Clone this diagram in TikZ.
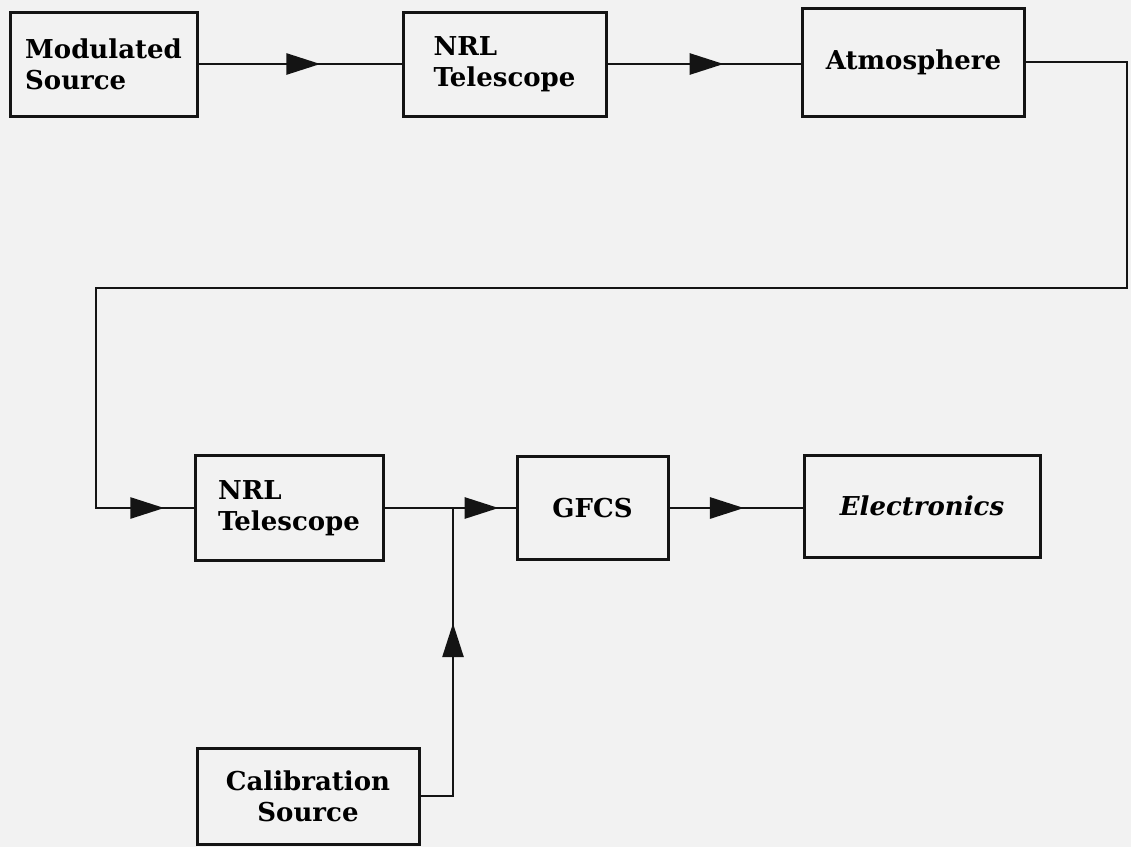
\documentclass[tikz,border=0pt]{standalone}
\usepackage{fontspec}
\setmainfont{DejaVu Serif}
\usetikzlibrary{arrows.meta,decorations.markings}

\definecolor{paper}{RGB}{242,242,242}
\definecolor{ink}{RGB}{20,20,20}

\tikzset{
  block/.style={draw=ink, line width=3pt, fill=paper, rectangle, inner sep=0pt,
    align=left, font=\fontsize{26}{31}\selectfont\bfseries},
  flow/.style={draw=ink, line width=2.8pt, line cap=rect},
  midarrow/.style={postaction={decorate}, decoration={markings,
    mark=at position #1 with {\arrow{Triangle[length=34pt,width=21pt]}}}}
}

\begin{document}
\begin{tikzpicture}[x=1pt, y=-1pt]
    % Page
    \fill[paper] (0,0) rectangle (1131,847);
    \useasboundingbox (0,0) rectangle (1131,847);

    % Blocks
    \node[block, minimum width=187pt, minimum height=104pt] (modsrc) at (103.5,64) {Modulated\\Source};
    \node[block, minimum width=203pt, minimum height=104pt] (nrltop) at (504.5,64) {NRL\\Telescope};
    \node[block, minimum width=222pt, minimum height=108pt] (atmos) at (913.5,62) {Atmosphere};
    \node[block, minimum width=188pt, minimum height=105pt] (nrlbot) at (289,508) {NRL\\Telescope};
    \node[block, minimum width=151pt, minimum height=103pt] (gfcs) at (592.5,508) {GFCS};
    \node[block, minimum width=236pt, minimum height=102pt] (elec) at (922,506) {\itshape Electronics};
    \node[block, minimum width=222pt, minimum height=96pt, align=center] (calsrc) at (308,796) {Calibration\\Source};

    % Route points
    \coordinate (loopne) at (1127,62);
    \coordinate (loopse) at (1127,288);
    \coordinate (loopsw) at (96,288);
    \coordinate (loopin) at (loopsw |- nrlbot.west);
    \coordinate (join) at (453,508);
    \coordinate (calturn) at (join |- calsrc.east);

    % Signal path
    \draw[flow, midarrow=0.6] (modsrc.east) -- (nrltop.west);
    \draw[flow, midarrow=0.6] (nrltop.east) -- (atmos.west |- nrltop.east);
    \draw[flow] (atmos.east) -- (loopne) -- (loopse) -- (loopsw) -- (loopin);
    \draw[flow, midarrow=0.7] (loopin) -- (nrlbot.west);
    \draw[flow] (nrlbot.east) -- (join);
    \draw[flow, midarrow=0.73] (join) -- (gfcs.west);
    \draw[flow, midarrow=0.56] (gfcs.east) -- (elec.west |- gfcs.east);
    \draw[flow] (calsrc.east) -- (calturn);
    \draw[flow, midarrow=0.6] (calturn) -- (join);
\end{tikzpicture}
\end{document}
